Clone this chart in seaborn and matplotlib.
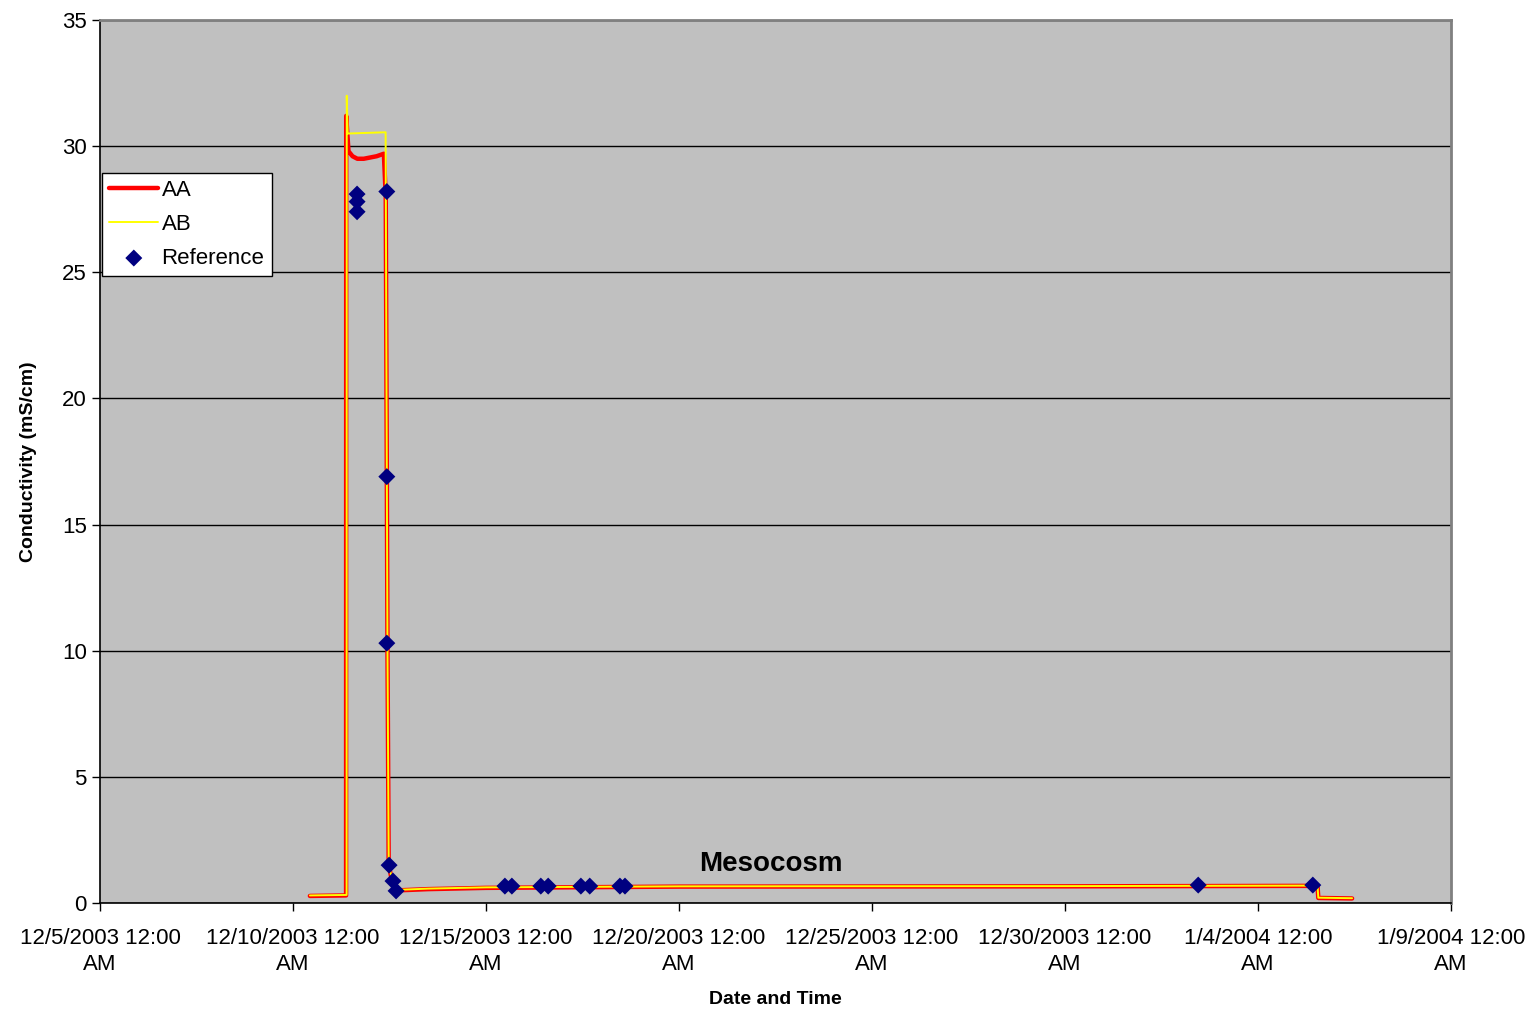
import pandas as pd
import matplotlib.pyplot as plt
import seaborn as sns

# AA sensor trace
aa_time = ['2003-12-10 10:30', '2003-12-11 09:00', '2003-12-11 09:05', '2003-12-11 10:30',
           '2003-12-11 13:00', '2003-12-11 16:00', '2003-12-11 20:00', '2003-12-12 00:00',
           '2003-12-12 04:00', '2003-12-12 08:30', '2003-12-12 09:40', '2003-12-12 10:20',
           '2003-12-12 10:45', '2003-12-12 11:30', '2003-12-12 13:30', '2003-12-12 17:00',
           '2003-12-13 12:00', '2003-12-15 00:00', '2003-12-20 00:00', '2003-12-30 00:00',
           '2004-01-05 13:00', '2004-01-05 13:30', '2004-01-06 10:30']
aa_value = [0.28, 0.30, 31.2, 29.8, 29.6, 29.5, 29.5, 29.55, 29.6, 29.7, 28.0, 17.0,
            10.0, 1.5, 0.9, 0.5, 0.55, 0.6, 0.65, 0.66, 0.68, 0.2, 0.18]

# AB sensor trace
ab_time = ['2003-12-10 10:30', '2003-12-11 09:20', '2003-12-11 09:25', '2003-12-11 10:00',
           '2003-12-12 09:35', '2003-12-12 10:20', '2003-12-12 10:45', '2003-12-12 11:30',
           '2003-12-12 13:30', '2003-12-12 17:00', '2003-12-13 12:00', '2003-12-15 00:00',
           '2003-12-20 00:00', '2003-12-30 00:00', '2004-01-05 13:00', '2004-01-05 13:30',
           '2004-01-06 10:30']
ab_value = [0.30, 0.32, 32.0, 30.5, 30.55, 17.0, 10.0, 1.6, 0.9, 0.52, 0.57, 0.62,
            0.66, 0.67, 0.69, 0.21, 0.19]

# Reference grab samples
ref_time = ['2003-12-11 15:50', '2003-12-11 15:50', '2003-12-11 15:50',
            '2003-12-12 10:20', '2003-12-12 10:20', '2003-12-12 10:20',
            '2003-12-12 11:45', '2003-12-12 14:10', '2003-12-12 16:05',
            '2003-12-15 11:45', '2003-12-15 16:05', '2003-12-16 10:05', '2003-12-16 14:40',
            '2003-12-17 11:00', '2003-12-17 16:30', '2003-12-18 11:15', '2003-12-18 14:25',
            '2004-01-02 10:50', '2004-01-05 10:05']
ref_value = [28.1, 27.8, 27.4, 28.2, 16.9, 10.3, 1.5, 0.87, 0.48,
             0.67, 0.67, 0.67, 0.67, 0.67, 0.67, 0.67, 0.67, 0.71, 0.71]

tick_dates = ['2003-12-05', '2003-12-10', '2003-12-15', '2003-12-20',
              '2003-12-25', '2003-12-30', '2004-01-04', '2004-01-09']
tick_labels = ['12/5/2003 12:00\nAM', '12/10/2003 12:00\nAM', '12/15/2003 12:00\nAM',
               '12/20/2003 12:00\nAM', '12/25/2003 12:00\nAM', '12/30/2003 12:00\nAM',
               '1/4/2004 12:00\nAM', '1/9/2004 12:00\nAM']

aa = pd.DataFrame({'time': pd.to_datetime(aa_time), 'value': aa_value})
ab = pd.DataFrame({'time': pd.to_datetime(ab_time), 'value': ab_value})
ref = pd.DataFrame({'time': pd.to_datetime(ref_time), 'value': ref_value})

sns.set_theme(style='white', rc={'text.color': 'black', 'axes.labelcolor': 'black',
                                 'xtick.color': 'black', 'ytick.color': 'black'})
plt.rcParams['font.family'] = ['Liberation Sans', 'DejaVu Sans']

fig = plt.figure(figsize=(15.35, 10.13), dpi=100)
ax = fig.add_axes([100 / 1535, 1 - 903 / 1013, 1351 / 1535, 883 / 1013])
ax.set_facecolor('#c0c0c0')

sns.lineplot(data=aa, x='time', y='value', sort=False, estimator=None,
             color='#ff0000', lw=3.2, label='AA', ax=ax, zorder=3)
sns.lineplot(data=ab, x='time', y='value', sort=False, estimator=None,
             color='#ffff00', lw=1.4, label='AB', ax=ax, zorder=4)
sns.scatterplot(data=ref, x='time', y='value', marker='D', s=75, color='#000080',
                edgecolor='none', label='Reference', ax=ax, zorder=5)

ax.set_xlim(pd.Timestamp('2003-12-05'), pd.Timestamp('2004-01-09'))
ax.set_ylim(0, 35)
ax.set_yticks(range(0, 36, 5))
ax.set_xticks(pd.to_datetime(tick_dates))
ax.set_xticklabels(tick_labels, linespacing=1.3)
ax.tick_params(axis='both', labelsize=16, length=6, width=1, direction='out',
               color='black', labelcolor='black', bottom=True, left=True)
ax.tick_params(axis='x', pad=12)
ax.yaxis.grid(True, color='black', lw=1)
ax.set_axisbelow(True)

for side in ['left', 'bottom']:
    ax.spines[side].set_color('black')
    ax.spines[side].set_linewidth(1.2)
for side in ['top', 'right']:
    ax.spines[side].set_color('#808080')
    ax.spines[side].set_linewidth(2)

ax.set_xlabel('Date and Time', fontsize=14, fontweight='bold', labelpad=12)
ax.set_ylabel('Conductivity (mS/cm)', fontsize=14, fontweight='bold', labelpad=18)

ax.text(pd.Timestamp('2003-12-22 09:00'), 1.55, 'Mesocosm', fontsize=20,
        fontweight='bold', ha='center', va='center', color='black', zorder=6)

leg = ax.legend(loc='upper left', bbox_to_anchor=(0.0015, 0.827), borderaxespad=0,
                fontsize=16, frameon=True, fancybox=False, framealpha=1,
                edgecolor='black', handlelength=2.2, handletextpad=0.15,
                labelspacing=0.58, borderpad=0.33)
leg.get_frame().set_linewidth(1)
for t in leg.get_texts():
    t.set_color('black')

plt.savefig('out.png', dpi=100)
